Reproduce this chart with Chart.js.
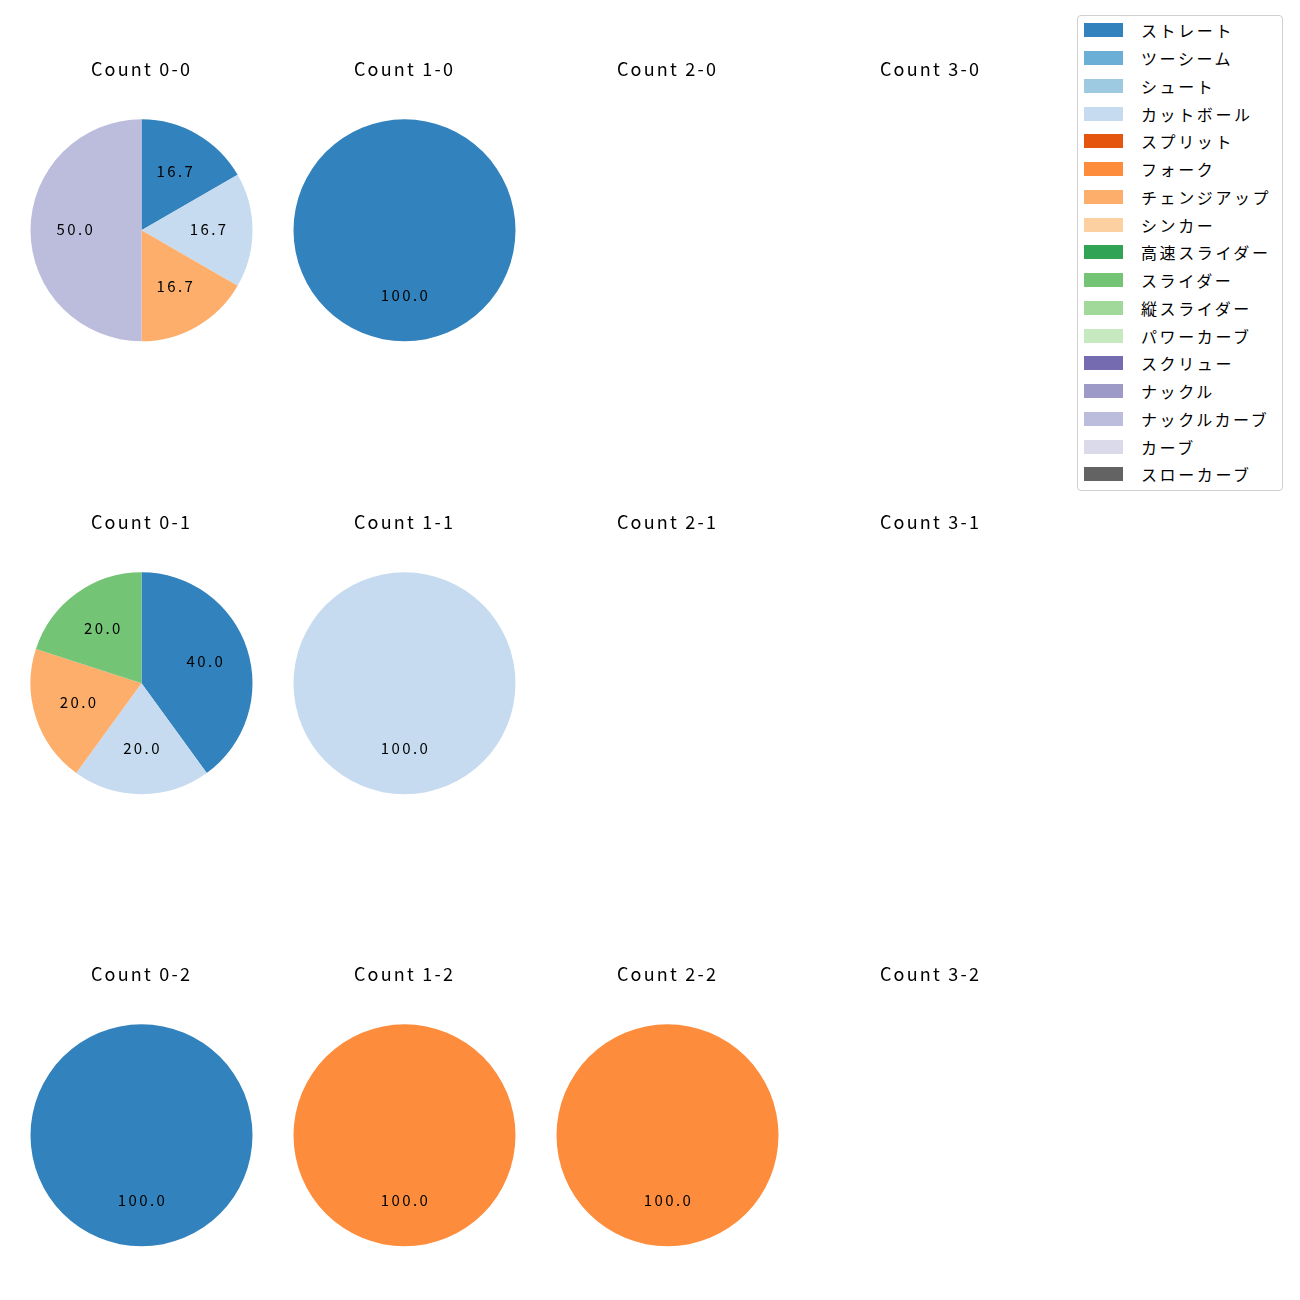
<!DOCTYPE html>
<html>
<head>
<meta charset="utf-8">
<script src="https://cdn.jsdelivr.net/npm/chart.js@4"></script>
<style>
  body { margin: 0; background: #fff; width: 1300px; height: 1300px; position: relative; overflow: hidden;
         font-family: "Noto Sans CJK JP", "Noto Sans", sans-serif; }
  .cell { position: absolute; width: 263px; height: 340px; }
  #legend { position: absolute; left: 1077px; top: 15px; width: 206px; height: 476px;
            border: 1px solid #d0d0d0; border-radius: 4px; box-sizing: border-box; }
  .item { position: absolute; left: 0; height: 20px; font-size: 16px; color: #000; line-height: 20px; white-space: nowrap; }
  .item span.sw { position: absolute; left: 6px; top: 3px; width: 39px; height: 14px; }
  .item span.tx { position: absolute; left: 63px; top: 0; letter-spacing: 2.6px; }
</style>
</head>
<body>
<div id="legend"></div>
<script>
const pitchTypes = ['ストレート', 'ツーシーム', 'シュート', 'カットボール', 'スプリット', 'フォーク', 'チェンジアップ', 'シンカー',
  '高速スライダー', 'スライダー', '縦スライダー', 'パワーカーブ', 'スクリュー', 'ナックル', 'ナックルカーブ', 'カーブ', 'スローカーブ'];
const pitchColors = ['#3182bd', '#6baed6', '#9ecae1', '#c6dbef', '#e6550d', '#fd8d3c', '#fdae6b', '#fdd0a2',
  '#31a354', '#74c476', '#a1d99b', '#c7e9c0', '#756bb1', '#9e9ac8', '#bcbddc', '#dadaeb', '#636363'];

// pitch counts per ball-strike count, in pitchTypes order
const count00 = [1, 0, 0, 1, 0, 0, 1, 0, 0, 0, 0, 0, 0, 0, 3, 0, 0];
const count10 = [1, 0, 0, 0, 0, 0, 0, 0, 0, 0, 0, 0, 0, 0, 0, 0, 0];
const count20 = [0, 0, 0, 0, 0, 0, 0, 0, 0, 0, 0, 0, 0, 0, 0, 0, 0];
const count30 = [0, 0, 0, 0, 0, 0, 0, 0, 0, 0, 0, 0, 0, 0, 0, 0, 0];
const count01 = [2, 0, 0, 1, 0, 0, 1, 0, 0, 1, 0, 0, 0, 0, 0, 0, 0];
const count11 = [0, 0, 0, 1, 0, 0, 0, 0, 0, 0, 0, 0, 0, 0, 0, 0, 0];
const count21 = [0, 0, 0, 0, 0, 0, 0, 0, 0, 0, 0, 0, 0, 0, 0, 0, 0];
const count31 = [0, 0, 0, 0, 0, 0, 0, 0, 0, 0, 0, 0, 0, 0, 0, 0, 0];
const count02 = [1, 0, 0, 0, 0, 0, 0, 0, 0, 0, 0, 0, 0, 0, 0, 0, 0];
const count12 = [0, 0, 0, 0, 0, 1, 0, 0, 0, 0, 0, 0, 0, 0, 0, 0, 0];
const count22 = [0, 0, 0, 0, 0, 1, 0, 0, 0, 0, 0, 0, 0, 0, 0, 0, 0];
const count32 = [0, 0, 0, 0, 0, 0, 0, 0, 0, 0, 0, 0, 0, 0, 0, 0, 0];

const grid = [
  [['Count 0-0', count00], ['Count 1-0', count10], ['Count 2-0', count20], ['Count 3-0', count30]],
  [['Count 0-1', count01], ['Count 1-1', count11], ['Count 2-1', count21], ['Count 3-1', count31]],
  [['Count 0-2', count02], ['Count 1-2', count12], ['Count 2-2', count22], ['Count 3-2', count32]],
];

const fontFamily = '"Noto Sans CJK JP", "Noto Sans", sans-serif';

// wider letter spacing for the title, closer to the original font
const titleSpacing = {
  id: 'titleSpacing',
  beforeDraw(chart) {
    chart.ctx.letterSpacing = '2.2px';
  }
};

// percentage labels at 0.6 of the radius, like matplotlib autopct
const pctLabels = {
  id: 'pctLabels',
  afterDatasetsDraw(chart) {
    const { ctx } = chart;
    const values = chart.data.datasets[0].data;
    const total = values.reduce((a, b) => a + b, 0);
    if (!total) return;
    ctx.save();
    ctx.font = '15px ' + fontFamily;
    ctx.fillStyle = '#000';
    ctx.textAlign = 'center';
    ctx.textBaseline = 'middle';
    ctx.letterSpacing = '2.4px';
    chart.getDatasetMeta(0).data.forEach((arc, i) => {
      if (!values[i]) return;
      const p = arc.getProps(['x', 'y', 'startAngle', 'endAngle', 'outerRadius'], true);
      const mid = (p.startAngle + p.endAngle) / 2;
      const r = p.outerRadius * 0.6;
      ctx.fillText((values[i] / total * 100).toFixed(1), p.x + Math.cos(mid) * r + 1, p.y + Math.sin(mid) * r - 1.5);
    });
    ctx.restore();
  }
};

grid.forEach((row, r) => {
  row.forEach(([title, values], c) => {
    const div = document.createElement('div');
    div.className = 'cell';
    div.style.left = (10 + c * 263) + 'px';
    div.style.top = (40 + r * 452.5) + 'px';
    const canvas = document.createElement('canvas');
    canvas.width = 263;
    canvas.height = 340;
    div.appendChild(canvas);
    document.body.appendChild(div);
    new Chart(canvas, {
      type: 'pie',
      data: {
        labels: pitchTypes,
        datasets: [{
          data: values,
          backgroundColor: pitchColors,
          borderWidth: 0,
          radius: 111,
        }],
      },
      options: {
        responsive: false,
        animation: false,
        devicePixelRatio: 1,
        layout: { padding: { bottom: 9.2 } },
        plugins: {
          legend: { display: false },
          tooltip: { enabled: false },
          title: {
            display: true,
            text: title,
            color: '#000',
            font: { family: fontFamily, size: 18, weight: 'normal', lineHeight: 1.2 },
            padding: { top: 18.2, bottom: 10 },
          },
        },
      },
      plugins: [titleSpacing, pctLabels],
    });
  });
});

const legend = document.getElementById('legend');
pitchTypes.forEach((name, i) => {
  const item = document.createElement('div');
  item.className = 'item';
  item.style.top = (29.3 - 15 - 10 + i * 27.75) + 'px';
  item.innerHTML = '<span class="sw" style="background:' + pitchColors[i] + '"></span><span class="tx">' + name + '</span>';
  legend.appendChild(item);
});
</script>
</body>
</html>
